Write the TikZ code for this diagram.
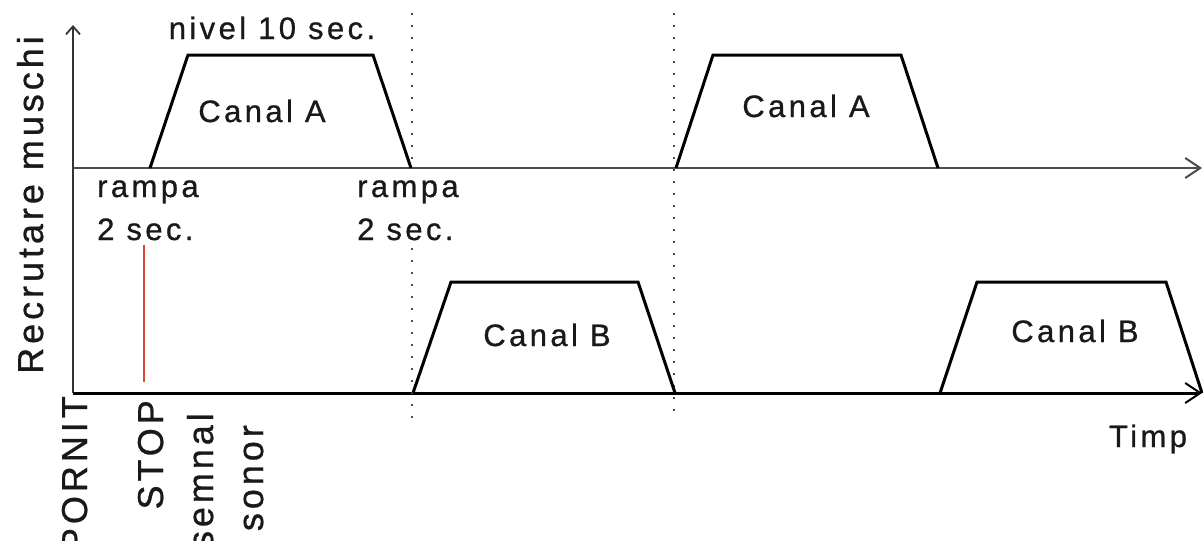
\documentclass[tikz,border=0pt]{standalone}
\usepackage{fontspec}
\setmainfont{Liberation Sans}[LetterSpace=11,FakeBold=0.8]
\usetikzlibrary{arrows.meta}
\begin{document}
\begin{tikzpicture}[x=1pt,y=-1pt,
  lbl/.style={font=\fontsize{31}{36}\selectfont, inner sep=0pt, text=black!90},
  vlbl/.style={font=\fontsize{36}{40}\selectfont, inner sep=0pt, text=black!90, rotate=90, anchor=base east},
  haxis/.style={-{Straight Barb[length=15pt,width=20pt,line width=2pt]}},
  vaxis/.style={line width=1.5pt, black!80, -{Straight Barb[length=8pt,width=14pt,line width=1.8pt]}},
  pulse/.style={line width=3pt, line join=miter, black},
  guide/.style={line width=1.6pt, dash pattern=on 1.6pt off 10.4pt, black!70},
  marker/.style={line width=1.6pt, draw={rgb,255:red,222;green,70;blue,50}}]
\useasboundingbox (0,0) rectangle (1203,541);
\fill[white] (0,0) rectangle (1203,541);

% axes
\coordinate (O) at (73,393);
\coordinate (Oup) at (73,168);
\coordinate (ytip) at (73,25);
\coordinate (xtipup) at (1202,168);
\coordinate (xtiplow) at (1202,393);
\draw[vaxis] (O) -- (ytip);
\draw[haxis, line width=2pt, black!70] (Oup) -- (xtipup);
\draw[haxis, line width=3pt, black] (O) -- (xtiplow);

% guides
\coordinate (g1a) at (412,13);
\coordinate (g1b) at (412,166);
\coordinate (g1c) at (412,248);
\coordinate (g1d) at (412,418);
\coordinate (g2a) at (674,13);
\coordinate (g2b) at (674,418);
\draw[guide] (g1a) -- (g1b);
\draw[guide] (g1c) -- (g1d);
\draw[guide] (g2a) -- (g2b);

% pulses
\draw[pulse] (150,168) -- (188,55) -- (373,55) -- (411,168);
\draw[pulse] (676,168) -- (713,55) -- (901,55) -- (938,168);
\draw[pulse] (413,393) -- (451,282) -- (638,282) -- (675,393);
\draw[pulse] (940,393) -- (977,282) -- (1166,282) -- (1202,393);

% red stop marker
\coordinate (st1) at (144,245);
\coordinate (st2) at (144,382);
\draw[marker] (st1) -- (st2);

% labels
\node[lbl, anchor=base] (nivel) at (272,39) {nivel 10 sec.};
\node[lbl, anchor=base] (ca1) at (262,122) {Canal A};
\node[lbl, anchor=base] (ca2) at (806,117) {Canal A};
\node[lbl, anchor=base] (cb1) at (547,346) {Canal B};
\node[lbl, anchor=base] (cb2) at (1075,342) {Canal B};
\node[lbl, anchor=base west] (r1a) at (97,197) {rampa};
\node[lbl, anchor=base west] (r1b) at (97,240) {2 sec.};
\node[lbl, anchor=base west] (r2a) at (357,197) {rampa};
\node[lbl, anchor=base west] (r2b) at (357,240) {2 sec.};
\node[lbl, anchor=base] (timp) at (1148,447) {Timp};

\node[vlbl, anchor=base] (ylab) at (43,205) {Recrutare muschi};
\node[vlbl] (pornit) at (87,396) {PORNIT};
\node[vlbl] (stop) at (163,400) {STOP};
\node[vlbl] (semnal) at (213,413) {semnal};
\node[vlbl] (sonor) at (263,425) {sonor};
\end{tikzpicture}
\end{document}
